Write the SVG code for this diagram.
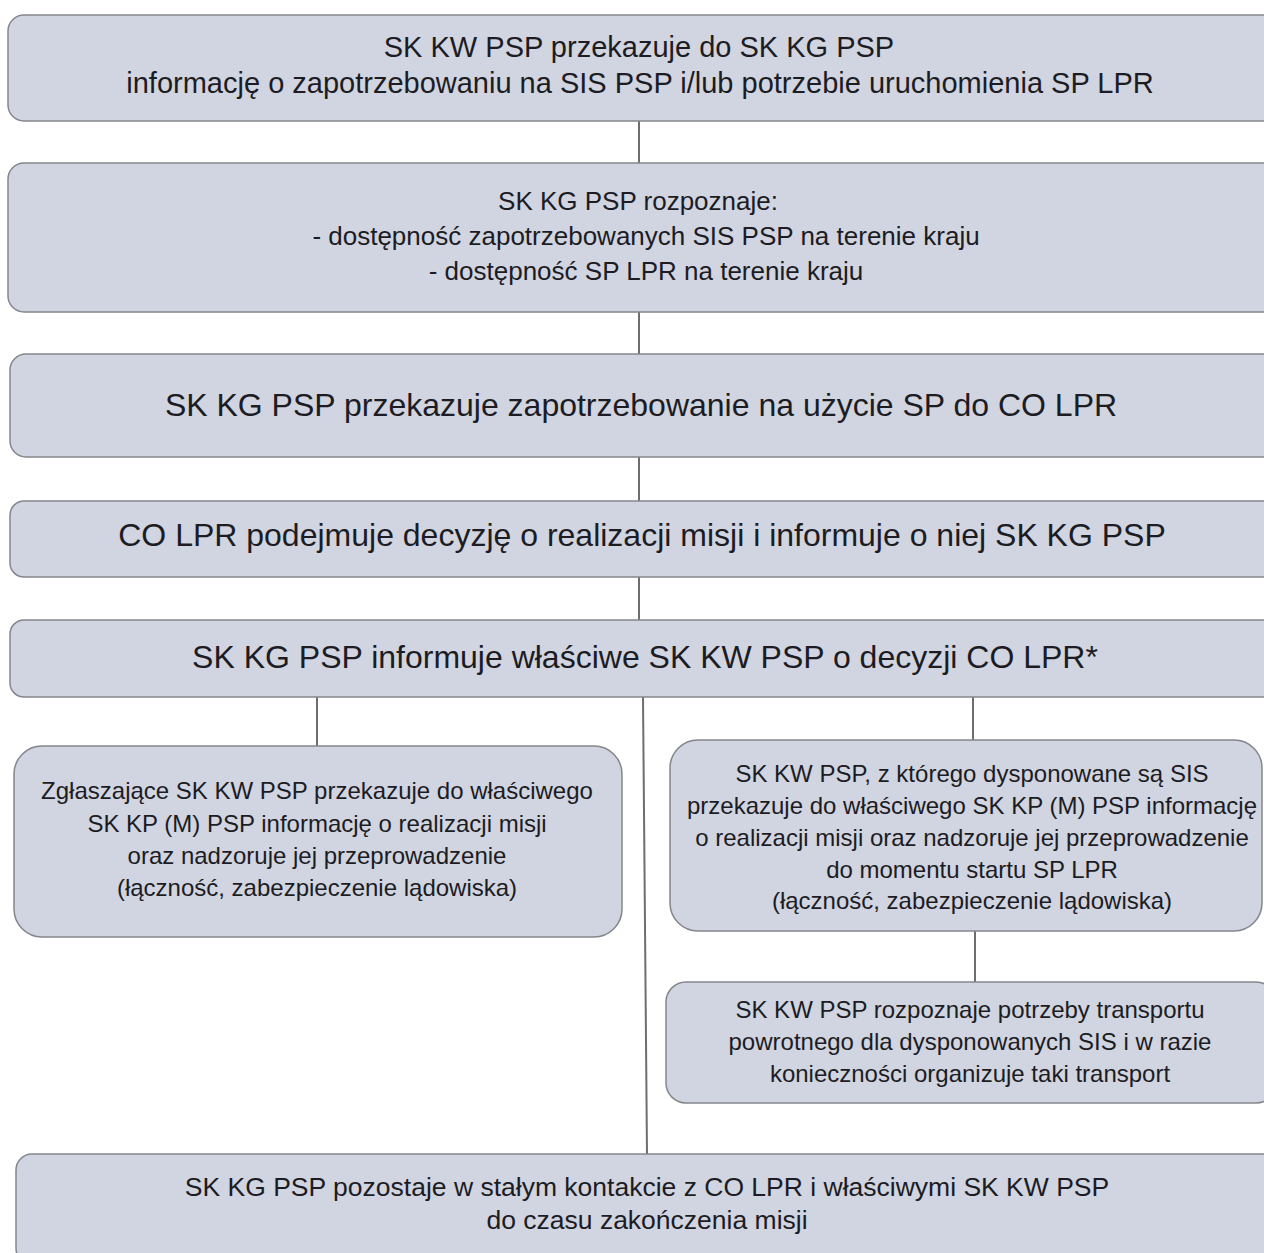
<svg xmlns="http://www.w3.org/2000/svg" width="1264" height="1253" viewBox="0 0 1264 1253">
<style>
.box{fill:#d1d4e1;stroke:#85868c;stroke-width:1.5}
.t{font-family:"Liberation Sans",Arial,sans-serif;fill:#1c1c22;text-anchor:middle}
.conn line{stroke:#6e6e72;stroke-width:2}
</style>
<rect width="1264" height="1253" fill="#ffffff"/>
<g class="conn" id="connectors">
<line x1="639" y1="121" x2="639" y2="163"/>
<line x1="639" y1="312" x2="639" y2="354"/>
<line x1="639" y1="457" x2="639" y2="501"/>
<line x1="639" y1="577" x2="639" y2="620"/>
<line x1="643" y1="697" x2="647" y2="1154"/>
<line x1="317" y1="697" x2="317" y2="746"/>
<line x1="973" y1="697" x2="973" y2="740"/>
<line x1="975" y1="931" x2="975" y2="982"/>
</g>
<g id="n1">
<rect class="box" x="8" y="15" width="1270" height="106" rx="16"/>
<text class="t" font-size="29" x="639" y="57">SK KW PSP przekazuje do SK KG PSP</text>
<text class="t" font-size="29" x="640" y="93">informację o zapotrzebowaniu na SIS PSP i/lub potrzebie uruchomienia SP LPR</text>
</g>
<g id="n2">
<rect class="box" x="8" y="163" width="1270" height="149" rx="16"/>
<text class="t" font-size="26" x="638" y="210">SK KG PSP rozpoznaje:</text>
<text class="t" font-size="26" x="646" y="245">- dostępność zapotrzebowanych SIS PSP na terenie kraju</text>
<text class="t" font-size="26" x="646" y="280">- dostępność SP LPR na terenie kraju</text>
</g>
<g id="n3">
<rect class="box" x="10" y="354" width="1268" height="103" rx="16"/>
<text class="t" font-size="32" x="641" y="416">SK KG PSP przekazuje zapotrzebowanie na użycie SP do CO LPR</text>
</g>
<g id="n4">
<rect class="box" x="10" y="501" width="1268" height="76" rx="14"/>
<text class="t" font-size="32" x="642" y="546">CO LPR podejmuje decyzję o realizacji misji i informuje o niej SK KG PSP</text>
</g>
<g id="n5">
<rect class="box" x="10" y="620" width="1268" height="77" rx="14"/>
<text class="t" font-size="32" x="645" y="668">SK KG PSP informuje właściwe SK KW PSP o decyzji CO LPR*</text>
</g>
<g id="n6">
<rect class="box" x="14" y="746" width="608" height="191" rx="28"/>
<text class="t" font-size="24" x="317" y="799">Zgłaszające SK KW PSP przekazuje do właściwego</text>
<text class="t" font-size="24" x="317" y="832">SK KP (M) PSP informację o realizacji misji</text>
<text class="t" font-size="24" x="317" y="864">oraz nadzoruje jej przeprowadzenie</text>
<text class="t" font-size="24" x="317" y="896">(łączność, zabezpieczenie lądowiska)</text>
</g>
<g id="n7">
<rect class="box" x="670" y="740" width="592" height="191" rx="28"/>
<text class="t" font-size="24" x="972" y="782">SK KW PSP, z którego dysponowane są SIS</text>
<text class="t" font-size="24" x="972" y="814">przekazuje do właściwego SK KP (M) PSP informację</text>
<text class="t" font-size="24" x="972" y="846">o realizacji misji oraz nadzoruje jej przeprowadzenie</text>
<text class="t" font-size="24" x="972" y="878">do momentu startu SP LPR</text>
<text class="t" font-size="24" x="972" y="909">(łączność, zabezpieczenie lądowiska)</text>
</g>
<g id="n8">
<rect class="box" x="666" y="982" width="610" height="121" rx="20"/>
<text class="t" font-size="24" x="970" y="1018">SK KW PSP rozpoznaje potrzeby transportu</text>
<text class="t" font-size="24" x="970" y="1050">powrotnego dla dysponowanych SIS i w razie</text>
<text class="t" font-size="24" x="970" y="1082">konieczności organizuje taki transport</text>
</g>
<g id="n9">
<rect class="box" x="16" y="1154" width="1262" height="110" rx="16"/>
<text class="t" font-size="26.5" x="647" y="1196">SK KG PSP pozostaje w stałym kontakcie z CO LPR i właściwymi SK KW PSP</text>
<text class="t" font-size="26.5" x="647" y="1229">do czasu zakończenia misji</text>
</g>
</svg>
